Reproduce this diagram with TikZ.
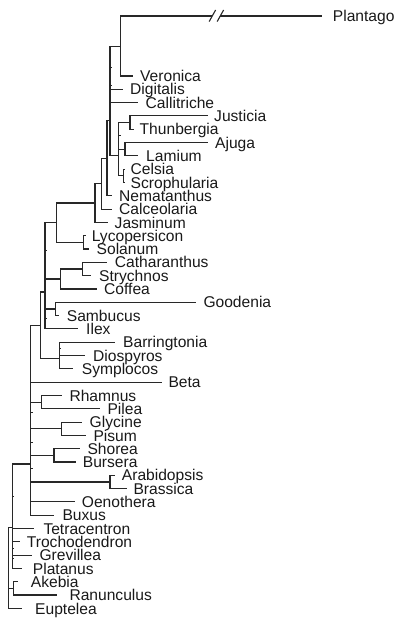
\documentclass[tikz,border=0pt]{standalone}
\usepackage{fontspec}
\setmainfont{Liberation Sans}
\definecolor{linec}{RGB}{40,40,40}
\definecolor{textc}{RGB}{25,25,25}
\newcommand\leaf[5]{%
  \coordinate (t#1) at (#2,#4);
  \node[lab] (#1) at (#3,#4) {#5};}
\begin{document}
\begin{tikzpicture}[x=1pt,y=-1pt,
  br/.style={draw=linec, line width=1.1pt},
  tick/.style={draw=linec, line width=0.9pt},
  lab/.style={anchor=west, inner sep=0pt, text height=11.2pt, text depth=0pt,
    font=\fontsize{15.6}{18}\selectfont, text=textc}]
\useasboundingbox (0,0) rectangle (396,619);
% leaves: name, tip x, label x, y, text
\leaf{Plantago}{321.7}{332.7}{16}{Plantago}
\leaf{Veronica}{133.3}{140}{76.0}{Veronica}
\leaf{Digitalis}{123.3}{130}{89.3}{Digitalis}
\leaf{Callitriche}{138.3}{145.5}{102.6}{Callitriche}
\leaf{Justicia}{207.5}{214}{115.9}{Justicia}
\leaf{Thunbergia}{133.5}{139.5}{129.2}{Thunbergia}
\leaf{Ajuga}{208}{215}{142.6}{Ajuga}
\leaf{Lamium}{138}{146}{155.9}{Lamium}
\leaf{Celsia}{124.5}{130.5}{169.2}{Celsia}
\leaf{Scrophularia}{124.5}{130.5}{182.5}{Scrophularia}
\leaf{Nematanthus}{112}{119}{195.8}{Nematanthus}
\leaf{Calceolaria}{112}{119}{209.1}{Calceolaria}
\leaf{Jasminum}{107.5}{114.5}{222.4}{Jasminum}
\leaf{Lycopersicon}{85.5}{91.7}{235.7}{Lycopersicon}
\leaf{Solanum}{88.5}{96.5}{249.0}{Solanum}
\leaf{Catharanthus}{107}{114.7}{262.3}{Catharanthus}
\leaf{Strychnos}{91}{99}{275.7}{Strychnos}
\leaf{Coffea}{96.7}{104}{289.0}{Coffea}
\leaf{Goodenia}{196}{203.3}{302.3}{Goodenia}
\leaf{Sambucus}{59.3}{66.7}{315.6}{Sambucus}
\leaf{Ilex}{78.3}{86}{328.9}{Ilex}
\leaf{Barringtonia}{115}{123}{342.2}{Barringtonia}
\leaf{Diospyros}{85}{93}{355.5}{Diospyros}
\leaf{Symplocos}{73.3}{81.7}{368.8}{Symplocos}
\leaf{Beta}{161.7}{168.3}{382.1}{Beta}
\leaf{Rhamnus}{61.7}{69.3}{395.4}{Rhamnus}
\leaf{Pilea}{100}{107.3}{408.8}{Pilea}
\leaf{Glycine}{81.7}{89.5}{422.1}{Glycine}
\leaf{Pisum}{86}{93.3}{435.4}{Pisum}
\leaf{Shorea}{80}{87.3}{448.7}{Shorea}
\leaf{Bursera}{76}{82.7}{462.0}{Bursera}
\leaf{Arabidopsis}{115}{121.7}{475.3}{Arabidopsis}
\leaf{Brassica}{127}{133.3}{488.6}{Brassica}
\leaf{Oenothera}{75}{81.7}{501.9}{Oenothera}
\leaf{Buxus}{54}{62.3}{515.2}{Buxus}
\leaf{Tetracentron}{34}{43.3}{528.5}{Tetracentron}
\leaf{Trochodendron}{20}{26.7}{541.8}{Trochodendron}
\leaf{Grevillea}{31.7}{39.3}{555.1}{Grevillea}
\leaf{Platanus}{22}{32.7}{568.4}{Platanus}
\leaf{Akebia}{18}{30.7}{581.7}{Akebia}
\leaf{Ranunculus}{56.7}{69.3}{595.0}{Ranunculus}
\leaf{Euptelea}{21.7}{35}{608.4}{Euptelea}
% internal nodes
\coordinate (PV) at (120.7,46.25);
\coordinate (P1) at (110,120.55);
\coordinate (JT) at (130,122.55);
\coordinate (AL) at (125,149.25);
\coordinate (CS) at (123.3,175.85);
\coordinate (Q) at (118.8,155.9);
\coordinate (R) at (107,158.2);
\coordinate (S) at (101.7,183.65);
\coordinate (T) at (95,203);
\coordinate (SOL) at (83.3,242.35);
\coordinate (U) at (56.7,222.7);
\coordinate (CSt) at (82.5,269);
\coordinate (G) at (60.3,279);
\coordinate (GS) at (55.7,308.95);
\coordinate (N2) at (45,292);
\coordinate (E) at (59.3,358.8);
\coordinate (A) at (40.8,325.4);
\coordinate (RP) at (41.7,402.1);
\coordinate (GP) at (61.7,428.75);
\coordinate (SB) at (54,455.35);
\coordinate (ABr) at (110,481.95);
\coordinate (B) at (30.7,464);
\coordinate (CE) at (12.3,527.3);
\coordinate (RAN) at (13.3,588.35);
\coordinate (ROOT) at (8.3,567.85);
% Plantago break
\coordinate (brkL) at (212.4,16);
\coordinate (brkR) at (220.4,16);
\coordinate (s1a) at (209.2,21.5);
\coordinate (s1b) at (215.6,10);
\coordinate (s2a) at (217.2,21.5);
\coordinate (s2b) at (223.6,10);
% connectors
\draw[br] (PV) |- (brkL);
\draw[br] (brkR) -- (tPlantago);
\draw[br] (s1a) -- (s1b);
\draw[br] (s2a) -- (s2b);
\draw[br] (PV) |- (tVeronica);
\foreach \c in {PV,tDigitalis,tCallitriche,Q} \draw[br] (P1) |- (\c);
\foreach \c in {tJusticia,tThunbergia} \draw[br] (JT) |- (\c);
\foreach \c in {tAjuga,tLamium} \draw[br] (AL) |- (\c);
\foreach \c in {tCelsia,tScrophularia} \draw[br] (CS) |- (\c);
\foreach \c in {JT,AL,CS} \draw[br] (Q) |- (\c);
\foreach \c in {P1,tNematanthus} \draw[br] (R) |- (\c);
\foreach \c in {R,tCalceolaria} \draw[br] (S) |- (\c);
\foreach \c in {S,tJasminum} \draw[br] (T) |- (\c);
\foreach \c in {tLycopersicon,tSolanum} \draw[br] (SOL) |- (\c);
\foreach \c in {T,SOL} \draw[br] (U) |- (\c);
\foreach \c in {tCatharanthus,tStrychnos} \draw[br] (CSt) |- (\c);
\foreach \c in {CSt,tCoffea} \draw[br] (G) |- (\c);
\foreach \c in {tGoodenia,tSambucus} \draw[br] (GS) |- (\c);
\foreach \c in {U,G,GS,tIlex} \draw[br] (N2) |- (\c);
\foreach \c in {tBarringtonia,tDiospyros,tSymplocos} \draw[br] (E) |- (\c);
\foreach \c in {N2,E} \draw[br] (A) |- (\c);
\foreach \c in {tRhamnus,tPilea} \draw[br] (RP) |- (\c);
\foreach \c in {tGlycine,tPisum} \draw[br] (GP) |- (\c);
\foreach \c in {tShorea,tBursera} \draw[br] (SB) |- (\c);
\foreach \c in {tArabidopsis,tBrassica} \draw[br] (ABr) |- (\c);
\foreach \c in {A,tBeta,RP,GP,SB,ABr,tOenothera,tBuxus} \draw[br] (B) |- (\c);
\foreach \c in {B,tTetracentron,tTrochodendron,tGrevillea,tPlatanus} \draw[br] (CE) |- (\c);
\foreach \c in {tAkebia,tRanunculus} \draw[br] (RAN) |- (\c);
\foreach \c in {CE,RAN,tEuptelea} \draw[br] (ROOT) |- (\c);
% tiny zero-length branch stubs
\foreach \p in {(110,67.8),(110,85.2),(118.8,135.9),(45,250.85),(45,318.9),(59.3,348.85),
  (30.7,412.85),(30.7,442),(30.7,468.65),(12.3,496.25),(12.3,548.45),(12.3,558.4)}
  \draw[tick] \p -- ++(1.8,0);
\end{tikzpicture}
\end{document}
